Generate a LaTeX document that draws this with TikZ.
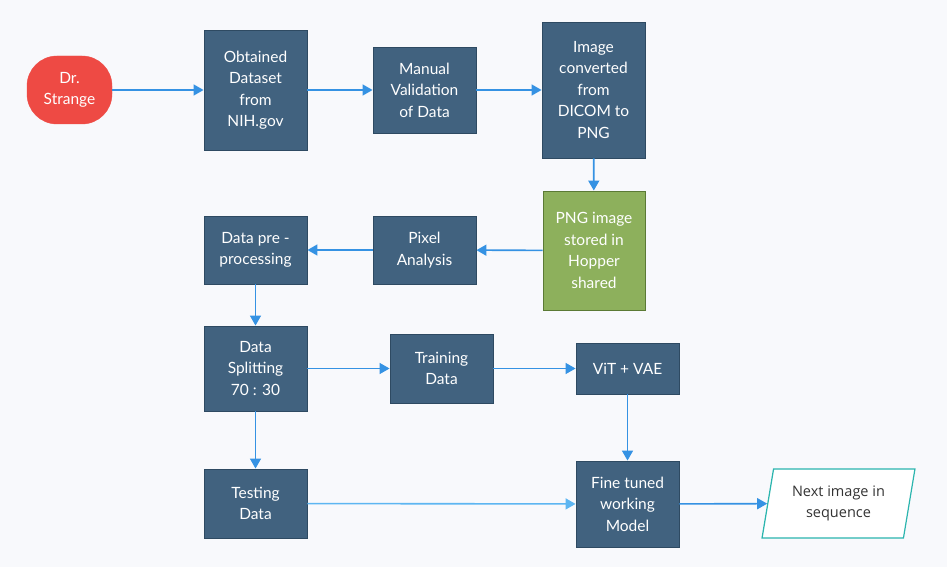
\documentclass[tikz,border=0pt]{standalone}
\usepackage{fontspec}
\setmainfont{Lato}
\newfontfamily\nextfont{Open Sans}
\usetikzlibrary{arrows.meta,shapes.geometric}
\definecolor{pagebg}{HTML}{F8F9FC}
\definecolor{boxfill}{HTML}{41627F}
\definecolor{boxedge}{HTML}{2E4A62}
\definecolor{pngfill}{HTML}{8DB05C}
\definecolor{pngedge}{HTML}{5B7A35}
\definecolor{startred}{HTML}{EE4A44}
\definecolor{flowblue}{HTML}{3592E3}
\definecolor{flowlight}{HTML}{5DB6F2}
\definecolor{outteal}{HTML}{2BB5AE}
\tikzset{
  box/.style={draw=boxedge, line width=0.9pt, fill=boxfill, text=white, align=center,
    font=\fontsize{15.5}{21.5}\selectfont, minimum width=103pt, inner sep=0pt,
    execute at begin node={\vspace*{5pt}}},
  flow/.style={draw=flowblue, line width=1.6pt, -{Triangle[length=10pt,width=11pt]}},
}
\begin{document}
\begin{tikzpicture}[x=1pt,y=-1pt]
\fill [pagebg] (0,0) rectangle (947,567);
\useasboundingbox (0,0) rectangle (947,567);
%
\node (drs) at (69.5,90) [draw=startred, fill=startred, rounded corners=30pt, text=white, align=center,
  font=\fontsize{15.5}{21.5}\selectfont, minimum width=85pt, minimum height=68pt, inner sep=0pt,
  execute at begin node={\vspace*{5pt}}] {Dr.\\Strange};
\node (obt) at (255.5,90)  [box, minimum height=120pt] {Obtained\\Dataset\\from\\NIH.gov};
\node (man) at (424.5,90)  [box, minimum height=86pt] {Manual\\Validation\\of Data};
\node (img) at (593.5,90)  [box, minimum height=136pt] {Image\\converted\\from\\DICOM to\\PNG};
\node (png) at (594,250.5) [box, draw=pngedge, fill=pngfill, minimum width=102pt, minimum height=119pt]
  {PNG image\\stored in\\Hopper\\shared};
\node (pix) at (424.5,250) [box, minimum height=68pt] {Pixel\\Analysis};
\node (pre) at (255.5,250) [box, minimum height=68pt] {Data pre -\\processing};
%
\node (spl) at (255.5,368.5) [box, minimum height=85pt] {Data\\Splitting\\70 : 30};
\node (trn) at (441.5,368.5) [box, minimum height=69pt] {Training\\Data};
\node (vit) at (627.5,368.5) [box, minimum height=51pt] {ViT + VAE};
\node (tst) at (255.5,503.5) [box, minimum height=69pt] {Testing\\Data};
\node (fin) at (627.5,504)   [box, minimum height=86pt] {Fine tuned\\working\\Model};
\node (nxt) at (838.5,503.5) [trapezium, trapezium left angle=77, trapezium right angle=103,
  trapezium stretches=true, draw=outteal, line width=1.2pt, fill=white, text=black!80, align=center,
  font=\nextfont\fontsize{14.5}{21.5}\selectfont, minimum width=153pt, minimum height=69pt,
  inner sep=0pt] {Next image in\\sequence};
%
\draw [flow] (drs) -- (obt);
\draw [flow] (obt) -- (man);
\draw [flow] (man) -- (img);
\draw [flow] (img) -- (png);
\draw [flow] (png) -- (pix);
\draw [flow] (pix) -- (pre);
\draw [flow] (pre) -- (spl);
\draw [flow] (spl) -- (trn);
\draw [flow] (trn) -- (vit);
\draw [flow] (vit) -- (fin);
\draw [flow] (spl) -- (tst);
\draw [flow, draw=flowlight] (tst) -- (fin);
\draw [flow] (fin) -- (nxt);
\end{tikzpicture}
\end{document}
